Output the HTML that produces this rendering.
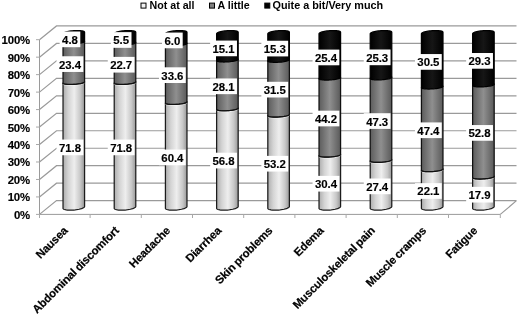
<!DOCTYPE html>
<html><head><meta charset="utf-8"><title>Chart</title>
<style>html,body{margin:0;padding:0;background:#fff;}body{width:520px;height:315px;overflow:hidden;}</style></head>
<body>
<svg width="520" height="315" viewBox="0 0 520 315" style="display:block;font-family:'Liberation Sans',sans-serif;font-weight:bold">
<defs>
<linearGradient id="g1" x1="0" x2="1" y1="0" y2="0"><stop offset="0" stop-color="#adadad"/><stop offset="0.25" stop-color="#d4d4d4"/><stop offset="0.52" stop-color="#eeeeee"/><stop offset="0.8" stop-color="#c8c8c8"/><stop offset="1" stop-color="#989898"/></linearGradient>
<linearGradient id="g2" x1="0" x2="1" y1="0" y2="0"><stop offset="0" stop-color="#5c5c5c"/><stop offset="0.5" stop-color="#8f8f8f"/><stop offset="1" stop-color="#5a5a5a"/></linearGradient>
<linearGradient id="g3" x1="0" x2="1" y1="0" y2="0"><stop offset="0" stop-color="#000"/><stop offset="0.5" stop-color="#161616"/><stop offset="1" stop-color="#000"/></linearGradient>
</defs>
<rect width="520" height="315" fill="#fff"/>
<path d="M39.50 214.40L56.50 200.65H516.50M39.50 196.93L56.50 183.18H516.50M39.50 179.46L56.50 165.71H516.50M39.50 161.99L56.50 148.24H516.50M39.50 144.52L56.50 130.77H516.50M39.50 127.05L56.50 113.30H516.50M39.50 109.58L56.50 95.83H516.50M39.50 92.11L56.50 78.36H516.50M39.50 74.64L56.50 60.89H516.50M39.50 57.17L56.50 43.42H516.50M39.50 39.70L56.50 25.95H516.50M500.30 214.40L516.50 200.65" fill="none" stroke="#9a9a9a" stroke-width="1.2"/>
<path d="M39.50 39.70V214.40H500.30" fill="none" stroke="#9a9a9a" stroke-width="1"/>
<path d="M36.00 214.40H39.50M36.00 196.93H39.50M36.00 179.46H39.50M36.00 161.99H39.50M36.00 144.52H39.50M36.00 127.05H39.50M36.00 109.58H39.50M36.00 92.11H39.50M36.00 74.64H39.50M36.00 57.17H39.50M36.00 39.70H39.50M39.50 214.40V218.00M90.10 214.40V218.00M141.30 214.40V218.00M192.50 214.40V218.00M243.70 214.40V218.00M294.90 214.40V218.00M346.10 214.40V218.00M397.30 214.40V218.00M448.50 214.40V218.00M500.30 214.40V218.00" fill="none" stroke="#a8a8a8" stroke-width="1"/>
<path d="M63.02 208.31L63.11 208.65L63.38 208.96L63.84 209.25L64.46 209.51L65.24 209.73L66.17 209.92L67.24 210.05L68.41 210.15L69.67 210.19L71.01 210.19L72.39 210.14L73.80 210.05L75.21 209.91L76.59 209.72L77.93 209.50L79.19 209.24L80.36 208.95L81.43 208.63L82.36 208.29L83.14 207.94L83.76 207.57L84.22 207.21L84.49 206.84L84.58 206.49L84.58 81.84L84.49 81.60L84.22 81.37L83.76 81.17L83.14 80.98L82.36 80.82L81.43 80.69L80.36 80.60L79.19 80.53L77.93 80.49L76.59 80.50L75.21 80.53L73.80 80.60L72.39 80.70L71.01 80.83L69.67 80.99L68.41 81.18L67.24 81.39L66.17 81.61L65.24 81.85L64.46 82.11L63.84 82.37L63.38 82.63L63.11 82.89L63.02 83.14Z" fill="url(#g1)" stroke="#1c1c1c" stroke-width="1.25" stroke-linejoin="round"/>
<path d="M63.02 83.14L63.11 83.38L63.38 83.61L63.84 83.81L64.46 84.00L65.24 84.16L66.17 84.29L67.24 84.39L68.41 84.45L69.67 84.49L71.01 84.49L72.39 84.45L73.80 84.38L75.21 84.28L76.59 84.15L77.93 83.99L79.19 83.80L80.36 83.60L81.43 83.37L82.36 83.13L83.14 82.87L83.76 82.62L84.22 82.35L84.49 82.09L84.58 81.84L84.58 41.27L84.49 41.03L84.22 40.81L83.76 40.60L83.14 40.42L82.36 40.26L81.43 40.13L80.36 40.03L79.19 39.96L77.93 39.93L76.59 39.93L75.21 39.96L73.80 40.03L72.39 40.13L71.01 40.26L69.67 40.42L68.41 40.61L67.24 40.82L66.17 41.05L65.24 41.29L64.46 41.54L63.84 41.80L63.38 42.06L63.11 42.32L63.02 42.57Z" fill="url(#g2)" stroke="#101010" stroke-width="1.25" stroke-linejoin="round"/>
<path d="M63.02 84.14L63.11 84.38L63.38 84.61L63.84 84.81L64.46 85.00L65.24 85.16L66.17 85.29L67.24 85.39L68.41 85.45L69.67 85.49L71.01 85.49L72.39 85.45L73.80 85.38L75.21 85.28L76.59 85.15L77.93 84.99L79.19 84.80L80.36 84.60L81.43 84.37L82.36 84.13L83.14 83.87L83.76 83.62L84.22 83.35L84.49 83.09L84.58 82.84" fill="none" stroke="#fff" stroke-opacity="0.5" stroke-width="0.9"/>
<path d="M63.02 83.14L63.11 83.38L63.38 83.61L63.84 83.81L64.46 84.00L65.24 84.16L66.17 84.29L67.24 84.39L68.41 84.45L69.67 84.49L71.01 84.49L72.39 84.45L73.80 84.38L75.21 84.28L76.59 84.15L77.93 83.99L79.19 83.80L80.36 83.60L81.43 83.37L82.36 83.13L83.14 82.87L83.76 82.62L84.22 82.35L84.49 82.09L84.58 81.84" fill="none" stroke="#111" stroke-width="1.1"/>
<path d="M63.02 42.57L63.11 42.81L63.38 43.04L63.84 43.25L64.46 43.43L65.24 43.59L66.17 43.72L67.24 43.82L68.41 43.89L69.67 43.92L71.01 43.92L72.39 43.88L73.80 43.82L75.21 43.71L76.59 43.58L77.93 43.42L79.19 43.24L80.36 43.03L81.43 42.80L82.36 42.56L83.14 42.31L83.76 42.05L84.22 41.79L84.49 41.53L84.58 41.27L84.58 32.19L84.49 31.89L84.22 31.60L83.76 31.35L83.14 31.11L82.36 30.92L81.43 30.75L80.36 30.63L79.19 30.55L77.93 30.50L76.59 30.51L75.21 30.55L73.80 30.64L72.39 30.76L71.01 30.93L69.67 31.13L68.41 31.36L67.24 31.62L66.17 31.90L65.24 32.20L64.46 32.52L63.84 32.84L63.38 33.17L63.11 33.50L63.02 33.81Z" fill="url(#g3)" stroke="#000" stroke-width="1.25" stroke-linejoin="round"/>
<path d="M114.22 208.31L114.31 208.65L114.58 208.96L115.04 209.25L115.66 209.51L116.44 209.73L117.37 209.92L118.44 210.05L119.61 210.15L120.87 210.19L122.21 210.19L123.59 210.14L125.00 210.05L126.41 209.91L127.79 209.72L129.13 209.50L130.39 209.24L131.56 208.95L132.63 208.63L133.56 208.29L134.34 207.94L134.96 207.57L135.42 207.21L135.69 206.84L135.78 206.49L135.78 81.84L135.69 81.60L135.42 81.37L134.96 81.17L134.34 80.98L133.56 80.82L132.63 80.69L131.56 80.60L130.39 80.53L129.13 80.49L127.79 80.50L126.41 80.53L125.00 80.60L123.59 80.70L122.21 80.83L120.87 80.99L119.61 81.18L118.44 81.39L117.37 81.61L116.44 81.85L115.66 82.11L115.04 82.37L114.58 82.63L114.31 82.89L114.22 83.14Z" fill="url(#g1)" stroke="#1c1c1c" stroke-width="1.25" stroke-linejoin="round"/>
<path d="M114.22 83.14L114.31 83.38L114.58 83.61L115.04 83.81L115.66 84.00L116.44 84.16L117.37 84.29L118.44 84.39L119.61 84.45L120.87 84.49L122.21 84.49L123.59 84.45L125.00 84.38L126.41 84.28L127.79 84.15L129.13 83.99L130.39 83.80L131.56 83.60L132.63 83.37L133.56 83.13L134.34 82.87L134.96 82.62L135.42 82.35L135.69 82.09L135.78 81.84L135.78 42.50L135.69 42.26L135.42 42.04L134.96 41.83L134.34 41.64L133.56 41.49L132.63 41.36L131.56 41.26L130.39 41.19L129.13 41.16L127.79 41.16L126.41 41.19L125.00 41.26L123.59 41.36L122.21 41.49L120.87 41.65L119.61 41.84L118.44 42.05L117.37 42.27L116.44 42.52L115.66 42.77L115.04 43.03L114.58 43.29L114.31 43.55L114.22 43.80Z" fill="url(#g2)" stroke="#101010" stroke-width="1.25" stroke-linejoin="round"/>
<path d="M114.22 84.14L114.31 84.38L114.58 84.61L115.04 84.81L115.66 85.00L116.44 85.16L117.37 85.29L118.44 85.39L119.61 85.45L120.87 85.49L122.21 85.49L123.59 85.45L125.00 85.38L126.41 85.28L127.79 85.15L129.13 84.99L130.39 84.80L131.56 84.60L132.63 84.37L133.56 84.13L134.34 83.87L134.96 83.62L135.42 83.35L135.69 83.09L135.78 82.84" fill="none" stroke="#fff" stroke-opacity="0.5" stroke-width="0.9"/>
<path d="M114.22 83.14L114.31 83.38L114.58 83.61L115.04 83.81L115.66 84.00L116.44 84.16L117.37 84.29L118.44 84.39L119.61 84.45L120.87 84.49L122.21 84.49L123.59 84.45L125.00 84.38L126.41 84.28L127.79 84.15L129.13 83.99L130.39 83.80L131.56 83.60L132.63 83.37L133.56 83.13L134.34 82.87L134.96 82.62L135.42 82.35L135.69 82.09L135.78 81.84" fill="none" stroke="#111" stroke-width="1.1"/>
<path d="M114.22 43.80L114.31 44.04L114.58 44.27L115.04 44.48L115.66 44.66L116.44 44.82L117.37 44.95L118.44 45.05L119.61 45.12L120.87 45.15L122.21 45.15L123.59 45.11L125.00 45.04L126.41 44.94L127.79 44.81L129.13 44.65L130.39 44.47L131.56 44.26L132.63 44.03L133.56 43.79L134.34 43.54L134.96 43.28L135.42 43.02L135.69 42.76L135.78 42.50L135.78 32.19L135.69 31.89L135.42 31.60L134.96 31.35L134.34 31.11L133.56 30.92L132.63 30.75L131.56 30.63L130.39 30.55L129.13 30.50L127.79 30.51L126.41 30.55L125.00 30.64L123.59 30.76L122.21 30.93L120.87 31.13L119.61 31.36L118.44 31.62L117.37 31.90L116.44 32.20L115.66 32.52L115.04 32.84L114.58 33.17L114.31 33.50L114.22 33.81Z" fill="url(#g3)" stroke="#000" stroke-width="1.25" stroke-linejoin="round"/>
<path d="M165.42 208.31L165.51 208.65L165.78 208.96L166.24 209.25L166.86 209.51L167.64 209.73L168.57 209.92L169.64 210.05L170.81 210.15L172.07 210.19L173.41 210.19L174.79 210.14L176.20 210.05L177.61 209.91L178.99 209.72L180.33 209.50L181.59 209.24L182.76 208.95L183.83 208.63L184.76 208.29L185.54 207.94L186.16 207.57L186.62 207.21L186.89 206.84L186.98 206.49L186.98 101.85L186.89 101.61L186.62 101.38L186.16 101.17L185.54 100.99L184.76 100.83L183.83 100.70L182.76 100.60L181.59 100.54L180.33 100.50L178.99 100.50L177.61 100.54L176.20 100.61L174.79 100.71L173.41 100.84L172.07 101.00L170.81 101.18L169.64 101.39L168.57 101.62L167.64 101.86L166.86 102.11L166.24 102.37L165.78 102.64L165.51 102.89L165.42 103.15Z" fill="url(#g1)" stroke="#1c1c1c" stroke-width="1.25" stroke-linejoin="round"/>
<path d="M165.42 103.15L165.51 103.39L165.78 103.61L166.24 103.82L166.86 104.01L167.64 104.16L168.57 104.29L169.64 104.39L170.81 104.46L172.07 104.49L173.41 104.49L174.79 104.46L176.20 104.39L177.61 104.29L178.99 104.16L180.33 104.00L181.59 103.81L182.76 103.60L183.83 103.38L184.76 103.13L185.54 102.88L186.16 102.62L186.62 102.36L186.89 102.10L186.98 101.85L186.98 43.38L186.89 43.14L186.62 42.91L186.16 42.71L185.54 42.52L184.76 42.36L183.83 42.23L182.76 42.13L181.59 42.07L180.33 42.03L178.99 42.03L177.61 42.07L176.20 42.14L174.79 42.24L173.41 42.37L172.07 42.53L170.81 42.72L169.64 42.92L168.57 43.15L167.64 43.39L166.86 43.65L166.24 43.91L165.78 44.17L165.51 44.43L165.42 44.68Z" fill="url(#g2)" stroke="#101010" stroke-width="1.25" stroke-linejoin="round"/>
<path d="M165.42 104.15L165.51 104.39L165.78 104.61L166.24 104.82L166.86 105.01L167.64 105.16L168.57 105.29L169.64 105.39L170.81 105.46L172.07 105.49L173.41 105.49L174.79 105.46L176.20 105.39L177.61 105.29L178.99 105.16L180.33 105.00L181.59 104.81L182.76 104.60L183.83 104.38L184.76 104.13L185.54 103.88L186.16 103.62L186.62 103.36L186.89 103.10L186.98 102.85" fill="none" stroke="#fff" stroke-opacity="0.5" stroke-width="0.9"/>
<path d="M165.42 103.15L165.51 103.39L165.78 103.61L166.24 103.82L166.86 104.01L167.64 104.16L168.57 104.29L169.64 104.39L170.81 104.46L172.07 104.49L173.41 104.49L174.79 104.46L176.20 104.39L177.61 104.29L178.99 104.16L180.33 104.00L181.59 103.81L182.76 103.60L183.83 103.38L184.76 103.13L185.54 102.88L186.16 102.62L186.62 102.36L186.89 102.10L186.98 101.85" fill="none" stroke="#111" stroke-width="1.1"/>
<path d="M165.42 44.68L165.51 44.92L165.78 45.15L166.24 45.35L166.86 45.54L167.64 45.70L168.57 45.83L169.64 45.93L170.81 45.99L172.07 46.03L173.41 46.03L174.79 45.99L176.20 45.92L177.61 45.82L178.99 45.69L180.33 45.53L181.59 45.34L182.76 45.14L183.83 44.91L184.76 44.67L185.54 44.41L186.16 44.15L186.62 43.89L186.89 43.63L186.98 43.38L186.98 32.19L186.89 31.89L186.62 31.60L186.16 31.35L185.54 31.11L184.76 30.92L183.83 30.75L182.76 30.63L181.59 30.55L180.33 30.50L178.99 30.51L177.61 30.55L176.20 30.64L174.79 30.76L173.41 30.93L172.07 31.13L170.81 31.36L169.64 31.62L168.57 31.90L167.64 32.20L166.86 32.52L166.24 32.84L165.78 33.17L165.51 33.50L165.42 33.81Z" fill="url(#g3)" stroke="#000" stroke-width="1.25" stroke-linejoin="round"/>
<path d="M216.62 208.31L216.71 208.65L216.98 208.96L217.44 209.25L218.06 209.51L218.84 209.73L219.77 209.92L220.84 210.05L222.01 210.15L223.27 210.19L224.61 210.19L225.99 210.14L227.40 210.05L228.81 209.91L230.19 209.72L231.53 209.50L232.79 209.24L233.96 208.95L235.03 208.63L235.96 208.29L236.74 207.94L237.36 207.57L237.82 207.21L238.09 206.84L238.18 206.49L238.18 108.17L238.09 107.93L237.82 107.70L237.36 107.49L236.74 107.31L235.96 107.15L235.03 107.02L233.96 106.92L232.79 106.85L231.53 106.82L230.19 106.82L228.81 106.86L227.40 106.92L225.99 107.03L224.61 107.16L223.27 107.32L222.01 107.50L220.84 107.71L219.77 107.94L218.84 108.18L218.06 108.43L217.44 108.69L216.98 108.95L216.71 109.21L216.62 109.47Z" fill="url(#g1)" stroke="#1c1c1c" stroke-width="1.25" stroke-linejoin="round"/>
<path d="M216.62 109.47L216.71 109.71L216.98 109.93L217.44 110.14L218.06 110.32L218.84 110.48L219.77 110.61L220.84 110.71L222.01 110.78L223.27 110.81L224.61 110.81L225.99 110.78L227.40 110.71L228.81 110.61L230.19 110.48L231.53 110.32L232.79 110.13L233.96 109.92L235.03 109.69L235.96 109.45L236.74 109.20L237.36 108.94L237.82 108.68L238.09 108.42L238.18 108.17L238.18 59.35L238.09 59.11L237.82 58.88L237.36 58.68L236.74 58.49L235.96 58.33L235.03 58.20L233.96 58.10L232.79 58.04L231.53 58.00L230.19 58.01L228.81 58.04L227.40 58.11L225.99 58.21L224.61 58.34L223.27 58.50L222.01 58.69L220.84 58.89L219.77 59.12L218.84 59.36L218.06 59.62L217.44 59.88L216.98 60.14L216.71 60.40L216.62 60.65Z" fill="url(#g2)" stroke="#101010" stroke-width="1.25" stroke-linejoin="round"/>
<path d="M216.62 110.47L216.71 110.71L216.98 110.93L217.44 111.14L218.06 111.32L218.84 111.48L219.77 111.61L220.84 111.71L222.01 111.78L223.27 111.81L224.61 111.81L225.99 111.78L227.40 111.71L228.81 111.61L230.19 111.48L231.53 111.32L232.79 111.13L233.96 110.92L235.03 110.69L235.96 110.45L236.74 110.20L237.36 109.94L237.82 109.68L238.09 109.42L238.18 109.17" fill="none" stroke="#fff" stroke-opacity="0.5" stroke-width="0.9"/>
<path d="M216.62 109.47L216.71 109.71L216.98 109.93L217.44 110.14L218.06 110.32L218.84 110.48L219.77 110.61L220.84 110.71L222.01 110.78L223.27 110.81L224.61 110.81L225.99 110.78L227.40 110.71L228.81 110.61L230.19 110.48L231.53 110.32L232.79 110.13L233.96 109.92L235.03 109.69L235.96 109.45L236.74 109.20L237.36 108.94L237.82 108.68L238.09 108.42L238.18 108.17" fill="none" stroke="#111" stroke-width="1.1"/>
<path d="M216.62 60.65L216.71 60.89L216.98 61.12L217.44 61.32L218.06 61.51L218.84 61.67L219.77 61.80L220.84 61.90L222.01 61.96L223.27 62.00L224.61 62.00L225.99 61.96L227.40 61.89L228.81 61.79L230.19 61.66L231.53 61.50L232.79 61.31L233.96 61.11L235.03 60.88L235.96 60.64L236.74 60.38L237.36 60.12L237.82 59.86L238.09 59.60L238.18 59.35L238.18 32.19L238.09 31.89L237.82 31.60L237.36 31.35L236.74 31.11L235.96 30.92L235.03 30.75L233.96 30.63L232.79 30.55L231.53 30.50L230.19 30.51L228.81 30.55L227.40 30.64L225.99 30.76L224.61 30.93L223.27 31.13L222.01 31.36L220.84 31.62L219.77 31.90L218.84 32.20L218.06 32.52L217.44 32.84L216.98 33.17L216.71 33.50L216.62 33.81Z" fill="url(#g3)" stroke="#000" stroke-width="1.25" stroke-linejoin="round"/>
<path d="M267.82 208.31L267.91 208.65L268.18 208.96L268.64 209.25L269.26 209.51L270.04 209.73L270.97 209.92L272.04 210.05L273.21 210.15L274.47 210.19L275.81 210.19L277.19 210.14L278.60 210.05L280.01 209.91L281.39 209.72L282.73 209.50L283.99 209.24L285.16 208.95L286.23 208.63L287.16 208.29L287.94 207.94L288.56 207.57L289.02 207.21L289.29 206.84L289.38 206.49L289.38 114.48L289.29 114.24L289.02 114.02L288.56 113.81L287.94 113.63L287.16 113.47L286.23 113.34L285.16 113.24L283.99 113.17L282.73 113.14L281.39 113.14L280.01 113.17L278.60 113.24L277.19 113.34L275.81 113.47L274.47 113.63L273.21 113.82L272.04 114.03L270.97 114.26L270.04 114.50L269.26 114.75L268.64 115.01L268.18 115.27L267.91 115.53L267.82 115.78Z" fill="url(#g1)" stroke="#1c1c1c" stroke-width="1.25" stroke-linejoin="round"/>
<path d="M267.82 115.78L267.91 116.02L268.18 116.25L268.64 116.46L269.26 116.64L270.04 116.80L270.97 116.93L272.04 117.03L273.21 117.10L274.47 117.13L275.81 117.13L277.19 117.09L278.60 117.03L280.01 116.92L281.39 116.79L282.73 116.63L283.99 116.45L285.16 116.24L286.23 116.01L287.16 115.77L287.94 115.52L288.56 115.26L289.02 115.00L289.29 114.74L289.38 114.48L289.38 59.70L289.29 59.46L289.02 59.23L288.56 59.03L287.94 58.84L287.16 58.68L286.23 58.55L285.16 58.46L283.99 58.39L282.73 58.36L281.39 58.36L280.01 58.39L278.60 58.46L277.19 58.56L275.81 58.69L274.47 58.85L273.21 59.04L272.04 59.25L270.97 59.47L270.04 59.71L269.26 59.97L268.64 60.23L268.18 60.49L267.91 60.75L267.82 61.00Z" fill="url(#g2)" stroke="#101010" stroke-width="1.25" stroke-linejoin="round"/>
<path d="M267.82 116.78L267.91 117.02L268.18 117.25L268.64 117.46L269.26 117.64L270.04 117.80L270.97 117.93L272.04 118.03L273.21 118.10L274.47 118.13L275.81 118.13L277.19 118.09L278.60 118.03L280.01 117.92L281.39 117.79L282.73 117.63L283.99 117.45L285.16 117.24L286.23 117.01L287.16 116.77L287.94 116.52L288.56 116.26L289.02 116.00L289.29 115.74L289.38 115.48" fill="none" stroke="#fff" stroke-opacity="0.5" stroke-width="0.9"/>
<path d="M267.82 115.78L267.91 116.02L268.18 116.25L268.64 116.46L269.26 116.64L270.04 116.80L270.97 116.93L272.04 117.03L273.21 117.10L274.47 117.13L275.81 117.13L277.19 117.09L278.60 117.03L280.01 116.92L281.39 116.79L282.73 116.63L283.99 116.45L285.16 116.24L286.23 116.01L287.16 115.77L287.94 115.52L288.56 115.26L289.02 115.00L289.29 114.74L289.38 114.48" fill="none" stroke="#111" stroke-width="1.1"/>
<path d="M267.82 61.00L267.91 61.24L268.18 61.47L268.64 61.68L269.26 61.86L270.04 62.02L270.97 62.15L272.04 62.25L273.21 62.31L274.47 62.35L275.81 62.35L277.19 62.31L278.60 62.24L280.01 62.14L281.39 62.01L282.73 61.85L283.99 61.67L285.16 61.46L286.23 61.23L287.16 60.99L287.94 60.74L288.56 60.48L289.02 60.21L289.29 59.95L289.38 59.70L289.38 32.19L289.29 31.89L289.02 31.60L288.56 31.35L287.94 31.11L287.16 30.92L286.23 30.75L285.16 30.63L283.99 30.55L282.73 30.50L281.39 30.51L280.01 30.55L278.60 30.64L277.19 30.76L275.81 30.93L274.47 31.13L273.21 31.36L272.04 31.62L270.97 31.90L270.04 32.20L269.26 32.52L268.64 32.84L268.18 33.17L267.91 33.50L267.82 33.81Z" fill="url(#g3)" stroke="#000" stroke-width="1.25" stroke-linejoin="round"/>
<path d="M319.02 208.31L319.11 208.65L319.38 208.96L319.84 209.25L320.46 209.51L321.24 209.73L322.17 209.92L323.24 210.05L324.41 210.15L325.67 210.19L327.01 210.19L328.39 210.14L329.80 210.05L331.21 209.91L332.59 209.72L333.93 209.50L335.19 209.24L336.36 208.95L337.43 208.63L338.36 208.29L339.14 207.94L339.76 207.57L340.22 207.21L340.49 206.84L340.58 206.49L340.58 154.50L340.49 154.26L340.22 154.03L339.76 153.82L339.14 153.64L338.36 153.48L337.43 153.35L336.36 153.25L335.19 153.19L333.93 153.15L332.59 153.15L331.21 153.19L329.80 153.26L328.39 153.36L327.01 153.49L325.67 153.65L324.41 153.83L323.24 154.04L322.17 154.27L321.24 154.51L320.46 154.76L319.84 155.02L319.38 155.29L319.11 155.54L319.02 155.80Z" fill="url(#g1)" stroke="#1c1c1c" stroke-width="1.25" stroke-linejoin="round"/>
<path d="M319.02 155.80L319.11 156.04L319.38 156.26L319.84 156.47L320.46 156.66L321.24 156.81L322.17 156.94L323.24 157.04L324.41 157.11L325.67 157.14L327.01 157.14L328.39 157.11L329.80 157.04L331.21 156.94L332.59 156.81L333.93 156.65L335.19 156.46L336.36 156.25L337.43 156.03L338.36 155.78L339.14 155.53L339.76 155.27L340.22 155.01L340.49 154.75L340.58 154.50L340.58 77.43L340.49 77.19L340.22 76.96L339.76 76.75L339.14 76.57L338.36 76.41L337.43 76.28L336.36 76.18L335.19 76.11L333.93 76.08L332.59 76.08L331.21 76.12L329.80 76.19L328.39 76.29L327.01 76.42L325.67 76.58L324.41 76.76L323.24 76.97L322.17 77.20L321.24 77.44L320.46 77.69L319.84 77.95L319.38 78.21L319.11 78.47L319.02 78.73Z" fill="url(#g2)" stroke="#101010" stroke-width="1.25" stroke-linejoin="round"/>
<path d="M319.02 156.80L319.11 157.04L319.38 157.26L319.84 157.47L320.46 157.66L321.24 157.81L322.17 157.94L323.24 158.04L324.41 158.11L325.67 158.14L327.01 158.14L328.39 158.11L329.80 158.04L331.21 157.94L332.59 157.81L333.93 157.65L335.19 157.46L336.36 157.25L337.43 157.03L338.36 156.78L339.14 156.53L339.76 156.27L340.22 156.01L340.49 155.75L340.58 155.50" fill="none" stroke="#fff" stroke-opacity="0.5" stroke-width="0.9"/>
<path d="M319.02 155.80L319.11 156.04L319.38 156.26L319.84 156.47L320.46 156.66L321.24 156.81L322.17 156.94L323.24 157.04L324.41 157.11L325.67 157.14L327.01 157.14L328.39 157.11L329.80 157.04L331.21 156.94L332.59 156.81L333.93 156.65L335.19 156.46L336.36 156.25L337.43 156.03L338.36 155.78L339.14 155.53L339.76 155.27L340.22 155.01L340.49 154.75L340.58 154.50" fill="none" stroke="#111" stroke-width="1.1"/>
<path d="M319.02 78.73L319.11 78.97L319.38 79.19L319.84 79.40L320.46 79.59L321.24 79.74L322.17 79.87L323.24 79.97L324.41 80.04L325.67 80.07L327.01 80.07L328.39 80.04L329.80 79.97L331.21 79.87L332.59 79.74L333.93 79.58L335.19 79.39L336.36 79.18L337.43 78.96L338.36 78.71L339.14 78.46L339.76 78.20L340.22 77.94L340.49 77.68L340.58 77.43L340.58 32.19L340.49 31.89L340.22 31.60L339.76 31.35L339.14 31.11L338.36 30.92L337.43 30.75L336.36 30.63L335.19 30.55L333.93 30.50L332.59 30.51L331.21 30.55L329.80 30.64L328.39 30.76L327.01 30.93L325.67 31.13L324.41 31.36L323.24 31.62L322.17 31.90L321.24 32.20L320.46 32.52L319.84 32.84L319.38 33.17L319.11 33.50L319.02 33.81Z" fill="url(#g3)" stroke="#000" stroke-width="1.25" stroke-linejoin="round"/>
<path d="M370.22 208.31L370.31 208.65L370.58 208.96L371.04 209.25L371.66 209.51L372.44 209.73L373.37 209.92L374.44 210.05L375.61 210.15L376.87 210.19L378.21 210.19L379.59 210.14L381.00 210.05L382.41 209.91L383.79 209.72L385.13 209.50L386.39 209.24L387.56 208.95L388.63 208.63L389.56 208.29L390.34 207.94L390.96 207.57L391.42 207.21L391.69 206.84L391.78 206.49L391.78 159.76L391.69 159.52L391.42 159.30L390.96 159.09L390.34 158.90L389.56 158.75L388.63 158.62L387.56 158.52L386.39 158.45L385.13 158.42L383.79 158.42L382.41 158.45L381.00 158.52L379.59 158.62L378.21 158.75L376.87 158.91L375.61 159.10L374.44 159.31L373.37 159.53L372.44 159.78L371.66 160.03L371.04 160.29L370.58 160.55L370.31 160.81L370.22 161.06Z" fill="url(#g1)" stroke="#1c1c1c" stroke-width="1.25" stroke-linejoin="round"/>
<path d="M370.22 161.06L370.31 161.30L370.58 161.53L371.04 161.74L371.66 161.92L372.44 162.08L373.37 162.21L374.44 162.31L375.61 162.38L376.87 162.41L378.21 162.41L379.59 162.37L381.00 162.30L382.41 162.20L383.79 162.07L385.13 161.91L386.39 161.73L387.56 161.52L388.63 161.29L389.56 161.05L390.34 160.80L390.96 160.54L391.42 160.28L391.69 160.02L391.78 159.76L391.78 77.25L391.69 77.01L391.42 76.78L390.96 76.58L390.34 76.39L389.56 76.23L388.63 76.10L387.56 76.01L386.39 75.94L385.13 75.91L383.79 75.91L382.41 75.94L381.00 76.01L379.59 76.11L378.21 76.24L376.87 76.40L375.61 76.59L374.44 76.80L373.37 77.02L372.44 77.26L371.66 77.52L371.04 77.78L370.58 78.04L370.31 78.30L370.22 78.55Z" fill="url(#g2)" stroke="#101010" stroke-width="1.25" stroke-linejoin="round"/>
<path d="M370.22 162.06L370.31 162.30L370.58 162.53L371.04 162.74L371.66 162.92L372.44 163.08L373.37 163.21L374.44 163.31L375.61 163.38L376.87 163.41L378.21 163.41L379.59 163.37L381.00 163.30L382.41 163.20L383.79 163.07L385.13 162.91L386.39 162.73L387.56 162.52L388.63 162.29L389.56 162.05L390.34 161.80L390.96 161.54L391.42 161.28L391.69 161.02L391.78 160.76" fill="none" stroke="#fff" stroke-opacity="0.5" stroke-width="0.9"/>
<path d="M370.22 161.06L370.31 161.30L370.58 161.53L371.04 161.74L371.66 161.92L372.44 162.08L373.37 162.21L374.44 162.31L375.61 162.38L376.87 162.41L378.21 162.41L379.59 162.37L381.00 162.30L382.41 162.20L383.79 162.07L385.13 161.91L386.39 161.73L387.56 161.52L388.63 161.29L389.56 161.05L390.34 160.80L390.96 160.54L391.42 160.28L391.69 160.02L391.78 159.76" fill="none" stroke="#111" stroke-width="1.1"/>
<path d="M370.22 78.55L370.31 78.79L370.58 79.02L371.04 79.23L371.66 79.41L372.44 79.57L373.37 79.70L374.44 79.80L375.61 79.86L376.87 79.90L378.21 79.90L379.59 79.86L381.00 79.79L382.41 79.69L383.79 79.56L385.13 79.40L386.39 79.22L387.56 79.01L388.63 78.78L389.56 78.54L390.34 78.29L390.96 78.03L391.42 77.76L391.69 77.50L391.78 77.25L391.78 32.19L391.69 31.89L391.42 31.60L390.96 31.35L390.34 31.11L389.56 30.92L388.63 30.75L387.56 30.63L386.39 30.55L385.13 30.50L383.79 30.51L382.41 30.55L381.00 30.64L379.59 30.76L378.21 30.93L376.87 31.13L375.61 31.36L374.44 31.62L373.37 31.90L372.44 32.20L371.66 32.52L371.04 32.84L370.58 33.17L370.31 33.50L370.22 33.81Z" fill="url(#g3)" stroke="#000" stroke-width="1.25" stroke-linejoin="round"/>
<path d="M421.42 208.31L421.51 208.65L421.78 208.96L422.24 209.25L422.86 209.51L423.64 209.73L424.57 209.92L425.64 210.05L426.81 210.15L428.07 210.19L429.41 210.19L430.79 210.14L432.20 210.05L433.61 209.91L434.99 209.72L436.33 209.50L437.59 209.24L438.76 208.95L439.83 208.63L440.76 208.29L441.54 207.94L442.16 207.57L442.62 207.21L442.89 206.84L442.98 206.49L442.98 169.07L442.89 168.82L442.62 168.60L442.16 168.39L441.54 168.21L440.76 168.05L439.83 167.92L438.76 167.82L437.59 167.75L436.33 167.72L434.99 167.72L433.61 167.75L432.20 167.82L430.79 167.92L429.41 168.06L428.07 168.22L426.81 168.40L425.64 168.61L424.57 168.84L423.64 169.08L422.86 169.33L422.24 169.59L421.78 169.85L421.51 170.11L421.42 170.36Z" fill="url(#g1)" stroke="#1c1c1c" stroke-width="1.25" stroke-linejoin="round"/>
<path d="M421.42 170.36L421.51 170.60L421.78 170.83L422.24 171.04L422.86 171.22L423.64 171.38L424.57 171.51L425.64 171.61L426.81 171.68L428.07 171.71L429.41 171.71L430.79 171.67L432.20 171.61L433.61 171.51L434.99 171.37L436.33 171.21L437.59 171.03L438.76 170.82L439.83 170.59L440.76 170.35L441.54 170.10L442.16 169.84L442.62 169.58L442.89 169.32L442.98 169.07L442.98 86.38L442.89 86.14L442.62 85.91L442.16 85.70L441.54 85.52L440.76 85.36L439.83 85.23L438.76 85.13L437.59 85.06L436.33 85.03L434.99 85.03L433.61 85.07L432.20 85.14L430.79 85.24L429.41 85.37L428.07 85.53L426.81 85.71L425.64 85.92L424.57 86.15L423.64 86.39L422.86 86.64L422.24 86.90L421.78 87.16L421.51 87.42L421.42 87.68Z" fill="url(#g2)" stroke="#101010" stroke-width="1.25" stroke-linejoin="round"/>
<path d="M421.42 171.36L421.51 171.60L421.78 171.83L422.24 172.04L422.86 172.22L423.64 172.38L424.57 172.51L425.64 172.61L426.81 172.68L428.07 172.71L429.41 172.71L430.79 172.67L432.20 172.61L433.61 172.51L434.99 172.37L436.33 172.21L437.59 172.03L438.76 171.82L439.83 171.59L440.76 171.35L441.54 171.10L442.16 170.84L442.62 170.58L442.89 170.32L442.98 170.07" fill="none" stroke="#fff" stroke-opacity="0.5" stroke-width="0.9"/>
<path d="M421.42 170.36L421.51 170.60L421.78 170.83L422.24 171.04L422.86 171.22L423.64 171.38L424.57 171.51L425.64 171.61L426.81 171.68L428.07 171.71L429.41 171.71L430.79 171.67L432.20 171.61L433.61 171.51L434.99 171.37L436.33 171.21L437.59 171.03L438.76 170.82L439.83 170.59L440.76 170.35L441.54 170.10L442.16 169.84L442.62 169.58L442.89 169.32L442.98 169.07" fill="none" stroke="#111" stroke-width="1.1"/>
<path d="M421.42 87.68L421.51 87.92L421.78 88.14L422.24 88.35L422.86 88.54L423.64 88.69L424.57 88.82L425.64 88.92L426.81 88.99L428.07 89.02L429.41 89.02L430.79 88.99L432.20 88.92L433.61 88.82L434.99 88.69L436.33 88.53L437.59 88.34L438.76 88.13L439.83 87.91L440.76 87.66L441.54 87.41L442.16 87.15L442.62 86.89L442.89 86.63L442.98 86.38L442.98 32.19L442.89 31.89L442.62 31.60L442.16 31.35L441.54 31.11L440.76 30.92L439.83 30.75L438.76 30.63L437.59 30.55L436.33 30.50L434.99 30.51L433.61 30.55L432.20 30.64L430.79 30.76L429.41 30.93L428.07 31.13L426.81 31.36L425.64 31.62L424.57 31.90L423.64 32.20L422.86 32.52L422.24 32.84L421.78 33.17L421.51 33.50L421.42 33.81Z" fill="url(#g3)" stroke="#000" stroke-width="1.25" stroke-linejoin="round"/>
<path d="M472.62 208.31L472.71 208.65L472.98 208.96L473.44 209.25L474.06 209.51L474.84 209.73L475.77 209.92L476.84 210.05L478.01 210.15L479.27 210.19L480.61 210.19L481.99 210.14L483.40 210.05L484.81 209.91L486.19 209.72L487.53 209.50L488.79 209.24L489.96 208.95L491.03 208.63L491.96 208.29L492.74 207.94L493.36 207.57L493.82 207.21L494.09 206.84L494.18 206.49L494.18 176.44L494.09 176.20L493.82 175.97L493.36 175.76L492.74 175.58L491.96 175.42L491.03 175.29L489.96 175.19L488.79 175.12L487.53 175.09L486.19 175.09L484.81 175.13L483.40 175.19L481.99 175.29L480.61 175.43L479.27 175.59L478.01 175.77L476.84 175.98L475.77 176.21L474.84 176.45L474.06 176.70L473.44 176.96L472.98 177.22L472.71 177.48L472.62 177.73Z" fill="url(#g1)" stroke="#1c1c1c" stroke-width="1.25" stroke-linejoin="round"/>
<path d="M472.62 177.73L472.71 177.98L472.98 178.20L473.44 178.41L474.06 178.59L474.84 178.75L475.77 178.88L476.84 178.98L478.01 179.05L479.27 179.08L480.61 179.08L481.99 179.05L483.40 178.98L484.81 178.88L486.19 178.74L487.53 178.58L488.79 178.40L489.96 178.19L491.03 177.96L491.96 177.72L492.74 177.47L493.36 177.21L493.82 176.95L494.09 176.69L494.18 176.44L494.18 84.27L494.09 84.03L493.82 83.80L493.36 83.60L492.74 83.41L491.96 83.25L491.03 83.12L489.96 83.03L488.79 82.96L487.53 82.93L486.19 82.93L484.81 82.96L483.40 83.03L481.99 83.13L480.61 83.26L479.27 83.42L478.01 83.61L476.84 83.82L475.77 84.04L474.84 84.28L474.06 84.54L473.44 84.80L472.98 85.06L472.71 85.32L472.62 85.57Z" fill="url(#g2)" stroke="#101010" stroke-width="1.25" stroke-linejoin="round"/>
<path d="M472.62 178.73L472.71 178.98L472.98 179.20L473.44 179.41L474.06 179.59L474.84 179.75L475.77 179.88L476.84 179.98L478.01 180.05L479.27 180.08L480.61 180.08L481.99 180.05L483.40 179.98L484.81 179.88L486.19 179.74L487.53 179.58L488.79 179.40L489.96 179.19L491.03 178.96L491.96 178.72L492.74 178.47L493.36 178.21L493.82 177.95L494.09 177.69L494.18 177.44" fill="none" stroke="#fff" stroke-opacity="0.5" stroke-width="0.9"/>
<path d="M472.62 177.73L472.71 177.98L472.98 178.20L473.44 178.41L474.06 178.59L474.84 178.75L475.77 178.88L476.84 178.98L478.01 179.05L479.27 179.08L480.61 179.08L481.99 179.05L483.40 178.98L484.81 178.88L486.19 178.74L487.53 178.58L488.79 178.40L489.96 178.19L491.03 177.96L491.96 177.72L492.74 177.47L493.36 177.21L493.82 176.95L494.09 176.69L494.18 176.44" fill="none" stroke="#111" stroke-width="1.1"/>
<path d="M472.62 85.57L472.71 85.81L472.98 86.04L473.44 86.25L474.06 86.43L474.84 86.59L475.77 86.72L476.84 86.82L478.01 86.88L479.27 86.92L480.61 86.92L481.99 86.88L483.40 86.81L484.81 86.71L486.19 86.58L487.53 86.42L488.79 86.24L489.96 86.03L491.03 85.80L491.96 85.56L492.74 85.31L493.36 85.05L493.82 84.78L494.09 84.52L494.18 84.27L494.18 32.19L494.09 31.89L493.82 31.60L493.36 31.35L492.74 31.11L491.96 30.92L491.03 30.75L489.96 30.63L488.79 30.55L487.53 30.50L486.19 30.51L484.81 30.55L483.40 30.64L481.99 30.76L480.61 30.93L479.27 31.13L478.01 31.36L476.84 31.62L475.77 31.90L474.84 32.20L474.06 32.52L473.44 32.84L472.98 33.17L472.71 33.50L472.62 33.81Z" fill="url(#g3)" stroke="#000" stroke-width="1.25" stroke-linejoin="round"/>
<g opacity="0.999">
<rect x="56.55" y="139.55" width="26.81" height="15.7" fill="#fff"/>
<text x="69.95" y="151.85"  font-size="11.4" letter-spacing="-0.05" text-anchor="middle" fill="#000" stroke="#000" stroke-width="0.15">71.8</text>
<rect x="56.55" y="56.26" width="26.81" height="15.7" fill="#fff"/>
<text x="69.95" y="68.56"  font-size="11.4" letter-spacing="-0.05" text-anchor="middle" fill="#000" stroke="#000" stroke-width="0.15">23.4</text>
<rect x="59.61" y="31.51" width="20.69" height="15.7" fill="#fff"/>
<text x="69.95" y="43.81"  font-size="11.4" letter-spacing="-0.05" text-anchor="middle" fill="#000" stroke="#000" stroke-width="0.15">4.8</text>
<rect x="107.75" y="139.55" width="26.81" height="15.7" fill="#fff"/>
<text x="121.15" y="151.85"  font-size="11.4" letter-spacing="-0.05" text-anchor="middle" fill="#000" stroke="#000" stroke-width="0.15">71.8</text>
<rect x="107.75" y="56.87" width="26.81" height="15.7" fill="#fff"/>
<text x="121.15" y="69.17"  font-size="11.4" letter-spacing="-0.05" text-anchor="middle" fill="#000" stroke="#000" stroke-width="0.15">22.7</text>
<rect x="110.81" y="32.13" width="20.69" height="15.7" fill="#fff"/>
<text x="121.15" y="44.43"  font-size="11.4" letter-spacing="-0.05" text-anchor="middle" fill="#000" stroke="#000" stroke-width="0.15">5.5</text>
<rect x="158.95" y="149.55" width="26.81" height="15.7" fill="#fff"/>
<text x="172.35" y="161.85"  font-size="11.4" letter-spacing="-0.05" text-anchor="middle" fill="#000" stroke="#000" stroke-width="0.15">60.4</text>
<rect x="158.95" y="67.31" width="26.81" height="15.7" fill="#fff"/>
<text x="172.35" y="79.61"  font-size="11.4" letter-spacing="-0.05" text-anchor="middle" fill="#000" stroke="#000" stroke-width="0.15">33.6</text>
<rect x="162.00" y="32.57" width="20.69" height="15.7" fill="#fff"/>
<text x="172.35" y="44.87"  font-size="11.4" letter-spacing="-0.05" text-anchor="middle" fill="#000" stroke="#000" stroke-width="0.15">6.0</text>
<rect x="210.15" y="152.71" width="26.81" height="15.7" fill="#fff"/>
<text x="223.55" y="165.01"  font-size="11.4" letter-spacing="-0.05" text-anchor="middle" fill="#000" stroke="#000" stroke-width="0.15">56.8</text>
<rect x="210.15" y="78.46" width="26.81" height="15.7" fill="#fff"/>
<text x="223.55" y="90.76"  font-size="11.4" letter-spacing="-0.05" text-anchor="middle" fill="#000" stroke="#000" stroke-width="0.15">28.1</text>
<rect x="210.15" y="40.55" width="26.81" height="15.7" fill="#fff"/>
<text x="223.55" y="52.85"  font-size="11.4" letter-spacing="-0.05" text-anchor="middle" fill="#000" stroke="#000" stroke-width="0.15">15.1</text>
<rect x="261.35" y="155.87" width="26.81" height="15.7" fill="#fff"/>
<text x="274.75" y="168.17"  font-size="11.4" letter-spacing="-0.05" text-anchor="middle" fill="#000" stroke="#000" stroke-width="0.15">53.2</text>
<rect x="261.35" y="81.79" width="26.81" height="15.7" fill="#fff"/>
<text x="274.75" y="94.09"  font-size="11.4" letter-spacing="-0.05" text-anchor="middle" fill="#000" stroke="#000" stroke-width="0.15">31.5</text>
<rect x="261.35" y="40.73" width="26.81" height="15.7" fill="#fff"/>
<text x="274.75" y="53.03"  font-size="11.4" letter-spacing="-0.05" text-anchor="middle" fill="#000" stroke="#000" stroke-width="0.15">15.3</text>
<rect x="312.55" y="175.87" width="26.81" height="15.7" fill="#fff"/>
<text x="325.95" y="188.17"  font-size="11.4" letter-spacing="-0.05" text-anchor="middle" fill="#000" stroke="#000" stroke-width="0.15">30.4</text>
<rect x="312.55" y="110.66" width="26.81" height="15.7" fill="#fff"/>
<text x="325.95" y="122.96"  font-size="11.4" letter-spacing="-0.05" text-anchor="middle" fill="#000" stroke="#000" stroke-width="0.15">44.2</text>
<rect x="312.55" y="49.59" width="26.81" height="15.7" fill="#fff"/>
<text x="325.95" y="61.89"  font-size="11.4" letter-spacing="-0.05" text-anchor="middle" fill="#000" stroke="#000" stroke-width="0.15">25.4</text>
<rect x="363.75" y="178.51" width="26.81" height="15.7" fill="#fff"/>
<text x="377.15" y="190.81"  font-size="11.4" letter-spacing="-0.05" text-anchor="middle" fill="#000" stroke="#000" stroke-width="0.15">27.4</text>
<rect x="363.75" y="113.21" width="26.81" height="15.7" fill="#fff"/>
<text x="377.15" y="125.51"  font-size="11.4" letter-spacing="-0.05" text-anchor="middle" fill="#000" stroke="#000" stroke-width="0.15">47.3</text>
<rect x="363.75" y="49.50" width="26.81" height="15.7" fill="#fff"/>
<text x="377.15" y="61.80"  font-size="11.4" letter-spacing="-0.05" text-anchor="middle" fill="#000" stroke="#000" stroke-width="0.15">25.3</text>
<rect x="414.95" y="183.16" width="26.81" height="15.7" fill="#fff"/>
<text x="428.35" y="195.46"  font-size="11.4" letter-spacing="-0.05" text-anchor="middle" fill="#000" stroke="#000" stroke-width="0.15">22.1</text>
<rect x="414.95" y="122.42" width="26.81" height="15.7" fill="#fff"/>
<text x="428.35" y="134.72"  font-size="11.4" letter-spacing="-0.05" text-anchor="middle" fill="#000" stroke="#000" stroke-width="0.15">47.4</text>
<rect x="414.95" y="54.06" width="26.81" height="15.7" fill="#fff"/>
<text x="428.35" y="66.36"  font-size="11.4" letter-spacing="-0.05" text-anchor="middle" fill="#000" stroke="#000" stroke-width="0.15">30.5</text>
<rect x="466.15" y="186.84" width="26.81" height="15.7" fill="#fff"/>
<text x="479.55" y="199.14"  font-size="11.4" letter-spacing="-0.05" text-anchor="middle" fill="#000" stroke="#000" stroke-width="0.15">17.9</text>
<rect x="466.15" y="125.05" width="26.81" height="15.7" fill="#fff"/>
<text x="479.55" y="137.35"  font-size="11.4" letter-spacing="-0.05" text-anchor="middle" fill="#000" stroke="#000" stroke-width="0.15">52.8</text>
<rect x="466.15" y="53.01" width="26.81" height="15.7" fill="#fff"/>
<text x="479.55" y="65.31"  font-size="11.4" letter-spacing="-0.05" text-anchor="middle" fill="#000" stroke="#000" stroke-width="0.15">29.3</text>
<text x="30" y="218.90" font-size="11.4" letter-spacing="-0.17" text-anchor="end" fill="#000" stroke="#000" stroke-width="0.15">0%</text>
<text x="30" y="201.43" font-size="11.4" letter-spacing="-0.17" text-anchor="end" fill="#000" stroke="#000" stroke-width="0.15">10%</text>
<text x="30" y="183.96" font-size="11.4" letter-spacing="-0.17" text-anchor="end" fill="#000" stroke="#000" stroke-width="0.15">20%</text>
<text x="30" y="166.49" font-size="11.4" letter-spacing="-0.17" text-anchor="end" fill="#000" stroke="#000" stroke-width="0.15">30%</text>
<text x="30" y="149.02" font-size="11.4" letter-spacing="-0.17" text-anchor="end" fill="#000" stroke="#000" stroke-width="0.15">40%</text>
<text x="30" y="131.55" font-size="11.4" letter-spacing="-0.17" text-anchor="end" fill="#000" stroke="#000" stroke-width="0.15">50%</text>
<text x="30" y="114.08" font-size="11.4" letter-spacing="-0.17" text-anchor="end" fill="#000" stroke="#000" stroke-width="0.15">60%</text>
<text x="30" y="96.61" font-size="11.4" letter-spacing="-0.17" text-anchor="end" fill="#000" stroke="#000" stroke-width="0.15">70%</text>
<text x="30" y="79.14" font-size="11.4" letter-spacing="-0.17" text-anchor="end" fill="#000" stroke="#000" stroke-width="0.15">80%</text>
<text x="30" y="61.67" font-size="11.4" letter-spacing="-0.17" text-anchor="end" fill="#000" stroke="#000" stroke-width="0.15">90%</text>
<text x="30" y="44.20" font-size="11.4" letter-spacing="-0.17" text-anchor="end" fill="#000" stroke="#000" stroke-width="0.15">100%</text>
<text transform="translate(68.40 231.30) rotate(-45)" font-size="11.4" letter-spacing="-0.17" word-spacing="-0.6" text-anchor="end" fill="#000" stroke="#000" stroke-width="0.2">Nausea</text>
<text transform="translate(119.60 231.30) rotate(-45)" font-size="11.4" letter-spacing="-0.17" word-spacing="-0.6" text-anchor="end" fill="#000" stroke="#000" stroke-width="0.2">Abdominal discomfort</text>
<text transform="translate(170.80 231.30) rotate(-45)" font-size="11.4" letter-spacing="-0.17" word-spacing="-0.6" text-anchor="end" fill="#000" stroke="#000" stroke-width="0.2">Headache</text>
<text transform="translate(222.00 231.30) rotate(-45)" font-size="11.4" letter-spacing="-0.17" word-spacing="-0.6" text-anchor="end" fill="#000" stroke="#000" stroke-width="0.2">Diarrhea</text>
<text transform="translate(273.20 231.30) rotate(-45)" font-size="11.4" letter-spacing="-0.17" word-spacing="-0.6" text-anchor="end" fill="#000" stroke="#000" stroke-width="0.2">Skin problems</text>
<text transform="translate(324.40 231.30) rotate(-45)" font-size="11.4" letter-spacing="-0.17" word-spacing="-0.6" text-anchor="end" fill="#000" stroke="#000" stroke-width="0.2">Edema</text>
<text transform="translate(375.60 231.30) rotate(-45)" font-size="11.4" letter-spacing="-0.17" word-spacing="-0.6" text-anchor="end" fill="#000" stroke="#000" stroke-width="0.2">Musculoskeletal pain</text>
<text transform="translate(426.80 231.30) rotate(-45)" font-size="11.4" letter-spacing="-0.17" word-spacing="-0.6" text-anchor="end" fill="#000" stroke="#000" stroke-width="0.2">Muscle cramps</text>
<text transform="translate(478.00 231.30) rotate(-45)" font-size="11.4" letter-spacing="-0.17" word-spacing="-0.6" text-anchor="end" fill="#000" stroke="#000" stroke-width="0.2">Fatigue</text>
<rect x="141" y="3.1" width="5" height="5" fill="#f2f2f2" stroke="#000" stroke-width="1"/>
<text x="149.5" y="8.9" font-size="10.67" fill="#000">Not at all</text>
<rect x="209.5" y="3.1" width="5" height="5" fill="#808080" stroke="#000" stroke-width="1"/>
<text x="217.5" y="8.9" font-size="10.67" fill="#000">A little</text>
<rect x="264.8" y="3.1" width="5" height="5" fill="#000" stroke="#000" stroke-width="1"/>
<text x="272.6" y="8.9" font-size="10.82" fill="#000">Quite a bit/Very much</text>
</g>
</svg>
</body></html>
